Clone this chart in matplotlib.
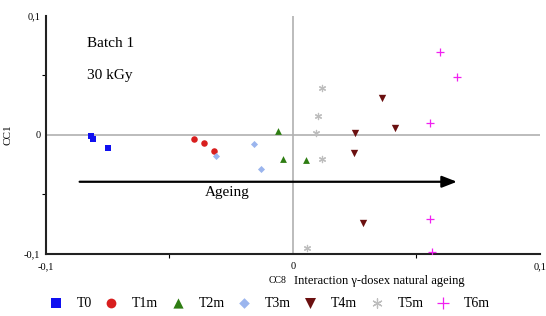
import numpy as np
from matplotlib import pyplot as plt
from matplotlib.ticker import FuncFormatter, MultipleLocator

plt.rcParams['font.family'] = ['Liberation Serif', 'DejaVu Serif']

# scores (CC8, CC1)
t0_x = [-0.0819, -0.0810, -0.0750]
t0_y = [-0.0008, -0.0030, -0.0107]
t1_x = [-0.0399, -0.0359, -0.0321]
t1_y = [-0.0030, -0.0065, -0.0134]
t2_x = [-0.0060, -0.0040, 0.0051]
t2_y = [0.0034, -0.0204, -0.0210]
t3_x = [-0.0313, -0.0157, -0.0129]
t3_y = [-0.0176, -0.0076, -0.0288]
t4_x = [0.0360, 0.0411, 0.0251, 0.0249, 0.0282]
t4_y = [0.0308, 0.0061, 0.0019, -0.0149, -0.0742]
t5_x = [0.0118, 0.0102, 0.0092, 0.0116, 0.0055]
t5_y = [0.0392, 0.0160, 0.0019, -0.0204, -0.0952]
t6_x = [0.0596, 0.0663, 0.0554, 0.0554, 0.0563]
t6_y = [0.0695, 0.0490, 0.0103, -0.0708, -0.0980]

labels = ['T0', 'T1m', 'T2m', 'T3m', 'T4m', 'T5m', 'T6m']
xs = [t0_x, t1_x, t2_x, t3_x, t4_x, t5_x, t6_x]
ys = [t0_y, t1_y, t2_y, t3_y, t4_y, t5_y, t6_y]
colors = ['#1010f0', '#d81e1e', '#2e7d12', '#9bb5ee', '#6b1010', '#bdbdbd', '#f020f0']
markers = ['s', 'o', '^', 'D', 'v', (6, 2, 0), '+']
sizes = [20, 22, 24, 13, 28, 20, 28]

fig = plt.figure(figsize=(5.46, 3.16), dpi=100)
ax = fig.add_axes([0.0842, 0.1962, 0.9048, 0.7532])

ax.axhline(0, color='#b0b0b0', lw=1.2, zorder=1)
ax.axvline(0, color='#b0b0b0', lw=1.2, zorder=1)

for i in range(len(labels)):
    lw = 0.9 if i >= 5 else 0
    ax.scatter(xs[i], ys[i], s=sizes[i], c=colors[i], marker=markers[i],
               linewidths=lw, label=labels[i], zorder=3)

ax.annotate('', xy=(0.0675, -0.0393), xytext=(-0.0875, -0.0393),
            arrowprops=dict(arrowstyle='-|>,head_length=0.9,head_width=0.35',
                            color='black', lw=1.6))
ax.text(-0.0266, -0.0487, 'Ageing', fontsize=11, ha='center', va='center')
ax.text(-0.0835, 0.0765, 'Batch 1', fontsize=11, ha='left', va='center')
ax.text(-0.0835, 0.0500, '30 kGy', fontsize=11, ha='left', va='center')

ax.set_xlim(-0.1, 0.1)
ax.set_ylim(-0.1, 0.1)
for s in ['top', 'right']:
    ax.spines[s].set_visible(False)
for s in ['left', 'bottom']:
    ax.spines[s].set_linewidth(1.5)
    ax.spines[s].set_color('#222222')

fmt = FuncFormatter(lambda v, p: ('%g' % round(v, 3)).replace('.', ','))
ax.xaxis.set_major_locator(MultipleLocator(0.1))
ax.yaxis.set_major_locator(MultipleLocator(0.1))
ax.xaxis.set_minor_locator(MultipleLocator(0.05))
ax.yaxis.set_minor_locator(MultipleLocator(0.05))
ax.xaxis.set_major_formatter(fmt)
ax.yaxis.set_major_formatter(fmt)
ax.tick_params(which='both', length=3, width=0.8, labelsize=7.5, pad=2)
ax.tick_params(axis='x', which='major', length=0, pad=6)
ax.tick_params(axis='y', which='major', length=0, pad=4)
fig.canvas.draw()
xt = ax.get_xticklabels()
xt[-1].set_horizontalalignment('right')

fig.text(0.492, 0.111, 'CC8', fontsize=7, ha='left', va='center')
fig.text(0.538, 0.111, 'Interaction γ-dosex natural ageing', fontsize=9,
         ha='left', va='center')
ax.set_ylabel('CC1', fontsize=8, labelpad=8)

fig.legend(loc='center', bbox_to_anchor=(0.493, 0.041), ncol=7, frameon=False,
           fontsize=10, handlelength=1.0, handletextpad=1.0, columnspacing=0.9,
           scatterpoints=1, markerscale=1.5)

plt.savefig('out.png', dpi=100)
